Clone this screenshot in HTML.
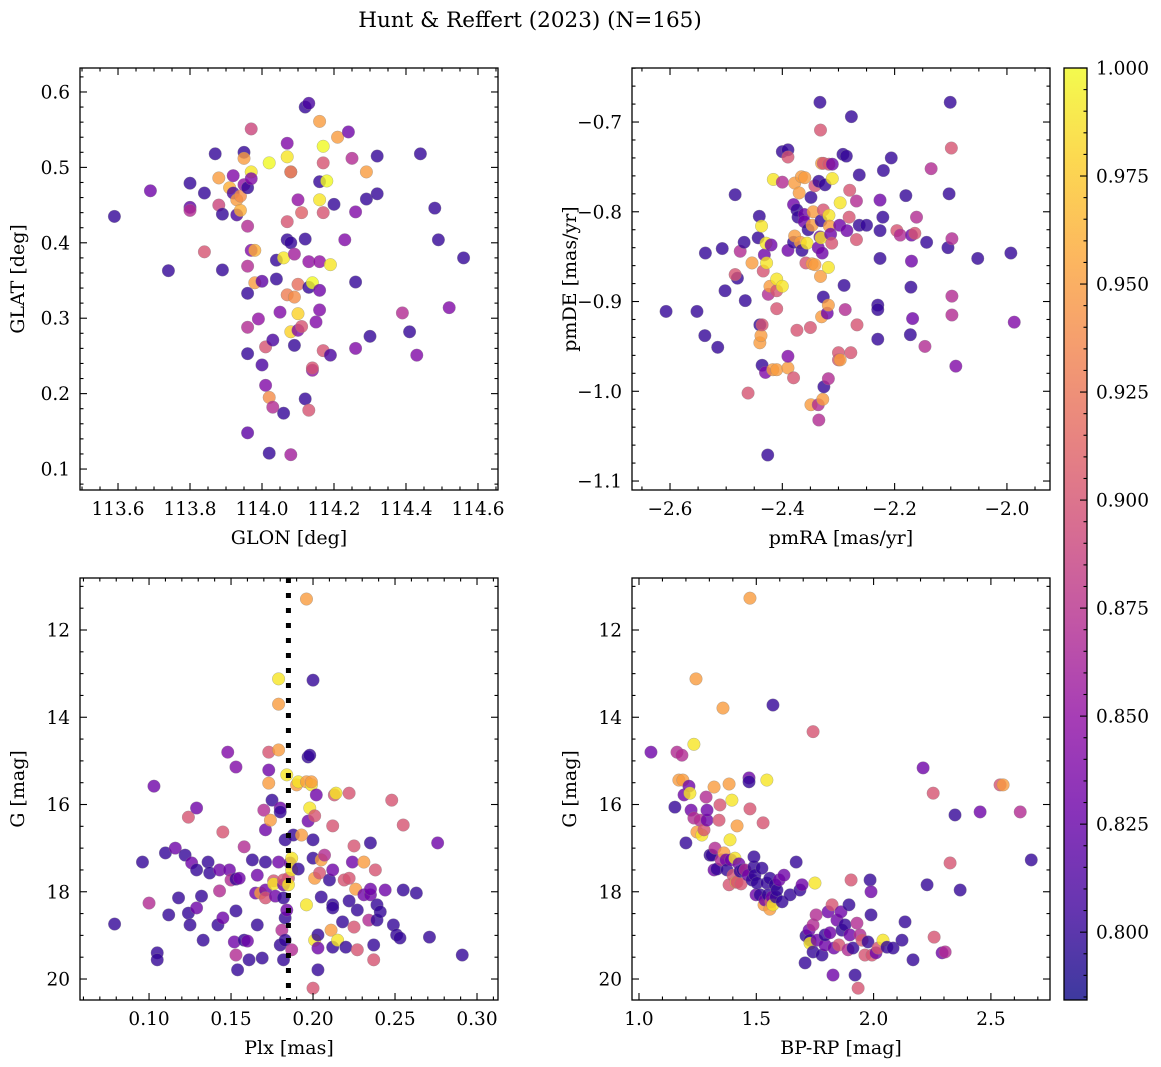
<!DOCTYPE html>
<html><head><meta charset="utf-8"><title>Hunt &amp; Reffert (2023)</title>
<style>
html,body{margin:0;padding:0;background:#fff;}
svg{display:block;font-family:"DejaVu Serif","Liberation Serif",serif;}
</style></head>
<body>
<svg id="fig" width="1161" height="1067" viewBox="0 0 1161 1067" xmlns="http://www.w3.org/2000/svg">
<text x="530" y="27" font-size="21.5" text-anchor="middle">Hunt &amp; Reffert (2023) (N=165)</text>
</svg>
<script>
// ---- data: [x, y, membership probability] ----
const glonGlat = [[113.59,0.435,0.80],[113.69,0.469,0.83],[113.74,0.363,0.80],[113.80,0.479,0.80],[113.80,0.447,0.82],[113.80,0.443,0.87],[113.84,0.388,0.90],[113.84,0.466,0.80],[113.87,0.518,0.80],[113.88,0.450,0.89],[113.88,0.486,0.95],[113.89,0.438,0.80],[113.89,0.364,0.80],[113.91,0.473,0.96],[113.92,0.466,0.81],[113.92,0.489,0.84],[113.93,0.457,0.95],[113.93,0.437,0.81],[113.94,0.443,0.96],[113.94,0.462,0.94],[113.95,0.477,0.85],[113.95,0.520,0.80],[113.96,0.473,0.80],[113.96,0.422,0.87],[113.97,0.551,0.89],[113.95,0.512,0.95],[113.97,0.494,0.99],[113.97,0.390,0.84],[113.96,0.369,0.87],[113.97,0.485,0.84],[113.96,0.253,0.80],[113.96,0.148,0.82],[113.96,0.333,0.80],[113.96,0.288,0.87],[113.98,0.390,0.96],[113.98,0.347,0.95],[113.99,0.299,0.85],[114.00,0.349,0.82],[114.00,0.238,0.81],[114.01,0.262,0.90],[114.01,0.211,0.84],[114.02,0.506,1.00],[114.02,0.195,0.94],[114.03,0.182,0.87],[114.02,0.121,0.80],[114.03,0.271,0.81],[114.04,0.377,0.80],[114.04,0.352,0.80],[114.05,0.308,0.84],[114.06,0.380,0.99],[114.06,0.174,0.80],[114.07,0.404,0.80],[114.07,0.428,0.90],[114.07,0.532,0.84],[114.07,0.514,0.99],[114.08,0.494,1.00],[114.07,0.331,0.93],[114.08,0.282,0.98],[114.08,0.119,0.86],[114.08,0.494,0.91],[114.08,0.400,0.80],[114.09,0.385,0.86],[114.09,0.264,0.80],[114.09,0.328,0.94],[114.10,0.457,0.85],[114.10,0.345,0.92],[114.10,0.306,0.98],[114.10,0.284,0.84],[114.11,0.289,0.90],[114.11,0.440,0.91],[114.12,0.193,0.80],[114.12,0.580,0.80],[114.13,0.585,0.81],[114.12,0.405,0.80],[114.13,0.375,0.85],[114.13,0.341,0.80],[114.14,0.231,0.85],[114.14,0.234,0.90],[114.13,0.178,0.90],[114.14,0.347,1.00],[114.15,0.295,0.84],[114.16,0.457,0.99],[114.16,0.375,0.85],[114.16,0.481,0.80],[114.16,0.311,0.84],[114.16,0.561,0.95],[114.16,0.337,0.83],[114.17,0.257,0.90],[114.17,0.440,0.90],[114.17,0.528,1.00],[114.17,0.506,0.90],[114.18,0.482,1.00],[114.19,0.371,0.99],[114.19,0.251,0.81],[114.20,0.451,0.80],[114.21,0.540,0.95],[114.23,0.404,0.84],[114.24,0.547,0.83],[114.25,0.512,0.87],[114.26,0.260,0.84],[114.26,0.348,0.80],[114.26,0.441,0.84],[114.29,0.494,0.95],[114.29,0.458,0.80],[114.30,0.276,0.80],[114.32,0.465,0.80],[114.32,0.515,0.80],[114.39,0.307,0.87],[114.41,0.282,0.80],[114.43,0.251,0.84],[114.44,0.518,0.80],[114.48,0.446,0.80],[114.49,0.404,0.80],[114.52,0.314,0.84],[114.56,0.380,0.80]];
const pmraPmde = [[-2.607,-0.911,0.80],[-2.552,-0.911,0.80],[-2.538,-0.938,0.80],[-2.537,-0.846,0.80],[-2.515,-0.951,0.80],[-2.507,-0.841,0.80],[-2.502,-0.888,0.80],[-2.484,-0.781,0.80],[-2.480,-0.874,0.80],[-2.475,-0.844,0.87],[-2.484,-0.870,0.90],[-2.468,-0.834,0.80],[-2.466,-0.899,0.80],[-2.461,-1.002,0.90],[-2.454,-0.857,0.95],[-2.443,-0.829,0.80],[-2.441,-0.805,0.80],[-2.440,-0.926,0.80],[-2.440,-0.946,0.95],[-2.438,-0.938,0.95],[-2.436,-0.926,0.90],[-2.437,-0.816,0.99],[-2.434,-0.866,0.90],[-2.432,-0.848,0.83],[-2.436,-0.971,0.80],[-2.430,-0.979,0.84],[-2.429,-0.835,0.99],[-2.428,-0.857,0.99],[-2.425,-0.892,0.87],[-2.426,-1.071,0.80],[-2.422,-0.883,0.95],[-2.420,-0.837,0.83],[-2.417,-0.976,0.95],[-2.416,-0.764,0.99],[-2.410,-0.888,0.90],[-2.410,-0.908,0.90],[-2.410,-0.976,0.95],[-2.410,-0.875,0.99],[-2.400,-0.883,0.99],[-2.400,-0.733,0.80],[-2.400,-0.767,0.87],[-2.390,-0.731,0.80],[-2.390,-0.739,0.90],[-2.390,-0.974,0.95],[-2.390,-0.843,0.83],[-2.390,-0.961,0.84],[-2.380,-0.834,0.80],[-2.380,-0.985,0.90],[-2.380,-0.792,0.83],[-2.378,-0.768,0.95],[-2.378,-0.827,0.95],[-2.374,-0.798,0.80],[-2.374,-0.932,0.90],[-2.372,-0.806,0.80],[-2.370,-0.779,0.95],[-2.368,-0.834,0.95],[-2.366,-0.761,0.95],[-2.365,-0.843,0.80],[-2.361,-0.803,0.83],[-2.361,-0.811,0.83],[-2.360,-0.762,0.95],[-2.358,-0.857,0.90],[-2.356,-0.835,0.99],[-2.354,-0.820,0.80],[-2.350,-0.929,0.90],[-2.349,-1.015,0.95],[-2.349,-0.784,0.80],[-2.347,-0.858,0.95],[-2.347,-0.815,0.95],[-2.345,-0.800,0.95],[-2.342,-0.859,0.95],[-2.342,-0.771,0.90],[-2.336,-0.840,0.83],[-2.336,-1.015,0.87],[-2.335,-0.766,0.80],[-2.335,-1.032,0.87],[-2.333,-0.678,0.80],[-2.333,-0.828,0.83],[-2.332,-0.872,0.95],[-2.332,-0.709,0.90],[-2.331,-0.810,0.80],[-2.331,-0.829,0.99],[-2.330,-0.746,0.95],[-2.330,-0.917,0.95],[-2.329,-0.846,0.83],[-2.328,-1.009,0.95],[-2.327,-0.746,0.90],[-2.327,-0.798,0.90],[-2.327,-0.895,0.80],[-2.326,-0.995,0.80],[-2.324,-0.770,0.80],[-2.320,-0.913,0.83],[-2.318,-0.986,0.87],[-2.318,-0.862,0.99],[-2.317,-0.804,0.99],[-2.317,-0.747,0.90],[-2.318,-0.904,0.95],[-2.316,-0.816,0.95],[-2.314,-0.825,0.83],[-2.312,-0.835,0.90],[-2.311,-0.747,0.83],[-2.311,-0.763,0.99],[-2.300,-0.965,0.90],[-2.300,-0.957,0.90],[-2.298,-0.815,0.83],[-2.297,-0.790,0.99],[-2.297,-0.965,0.95],[-2.292,-0.736,0.80],[-2.290,-0.882,0.80],[-2.286,-0.738,0.80],[-2.288,-0.909,0.87],[-2.285,-0.821,0.83],[-2.281,-0.806,0.90],[-2.280,-0.776,0.90],[-2.278,-0.957,0.90],[-2.277,-0.694,0.80],[-2.268,-0.788,0.87],[-2.267,-0.926,0.90],[-2.263,-0.815,0.80],[-2.263,-0.759,0.80],[-2.268,-0.831,0.90],[-2.250,-0.815,0.80],[-2.220,-0.754,0.80],[-2.230,-0.904,0.80],[-2.230,-0.909,0.80],[-2.230,-0.942,0.80],[-2.226,-0.787,0.83],[-2.226,-0.821,0.80],[-2.226,-0.852,0.80],[-2.221,-0.806,0.80],[-2.206,-0.740,0.80],[-2.196,-0.821,0.90],[-2.190,-0.826,0.87],[-2.180,-0.782,0.80],[-2.172,-0.937,0.80],[-2.171,-0.884,0.80],[-2.170,-0.826,0.83],[-2.168,-0.919,0.83],[-2.170,-0.855,0.83],[-2.164,-0.824,0.90],[-2.161,-0.806,0.87],[-2.143,-0.834,0.80],[-2.146,-0.950,0.87],[-2.135,-0.752,0.87],[-2.103,-0.780,0.80],[-2.105,-0.840,0.80],[-2.101,-0.678,0.80],[-2.099,-0.729,0.90],[-2.098,-0.830,0.87],[-2.098,-0.894,0.87],[-2.098,-0.915,0.87],[-2.091,-0.972,0.84],[-2.052,-0.852,0.80],[-1.993,-0.846,0.80],[-1.987,-0.923,0.84]];
const plxG = [[0.079,18.74,0.80],[0.096,17.32,0.80],[0.103,15.58,0.83],[0.100,18.26,0.87],[0.105,19.40,0.80],[0.105,19.56,0.80],[0.110,17.11,0.80],[0.112,18.53,0.80],[0.116,17.00,0.83],[0.118,18.14,0.80],[0.122,17.16,0.80],[0.124,16.29,0.90],[0.124,18.49,0.80],[0.125,18.76,0.80],[0.126,17.34,0.83],[0.129,16.08,0.83],[0.129,17.50,0.80],[0.129,18.37,0.83],[0.132,18.10,0.80],[0.133,19.11,0.80],[0.136,17.32,0.80],[0.137,17.57,0.80],[0.142,18.76,0.80],[0.143,17.50,0.83],[0.143,17.98,0.87],[0.145,16.63,0.90],[0.145,18.60,0.83],[0.148,14.80,0.84],[0.149,17.50,0.83],[0.150,17.73,0.87],[0.152,19.15,0.83],[0.153,15.14,0.84],[0.153,19.45,0.87],[0.153,17.71,0.80],[0.153,18.44,0.80],[0.154,19.79,0.80],[0.155,17.69,0.83],[0.158,16.97,0.87],[0.158,19.11,0.80],[0.160,19.13,0.83],[0.161,19.56,0.80],[0.163,17.27,0.80],[0.165,18.03,0.83],[0.166,17.62,0.83],[0.166,18.76,0.80],[0.168,18.03,0.95],[0.169,19.52,0.80],[0.170,16.13,0.87],[0.171,16.58,0.83],[0.171,17.96,0.83],[0.171,18.14,0.90],[0.171,17.32,0.80],[0.173,14.80,0.90],[0.173,15.51,0.95],[0.173,15.21,0.83],[0.174,16.36,0.95],[0.175,15.90,0.80],[0.176,17.75,0.90],[0.176,17.82,0.99],[0.177,18.10,0.83],[0.179,17.32,0.83],[0.179,13.12,0.99],[0.179,13.70,0.95],[0.179,14.75,0.95],[0.180,16.08,0.83],[0.180,16.17,0.80],[0.180,19.22,0.80],[0.181,18.88,0.87],[0.182,17.84,0.83],[0.182,19.56,0.80],[0.182,17.73,0.90],[0.182,18.14,0.80],[0.183,16.81,0.80],[0.183,18.60,0.80],[0.183,19.11,0.80],[0.184,15.32,0.99],[0.184,18.42,0.83],[0.185,17.69,0.90],[0.185,17.84,0.99],[0.186,17.34,0.83],[0.187,19.33,0.87],[0.187,17.23,0.99],[0.187,17.50,0.99],[0.188,16.70,0.80],[0.190,15.55,0.95],[0.191,17.48,0.80],[0.191,15.48,0.99],[0.193,16.70,0.95],[0.196,11.29,0.95],[0.196,15.48,0.95],[0.196,18.30,0.99],[0.197,16.38,0.83],[0.197,14.91,0.80],[0.198,14.87,0.80],[0.198,16.08,0.99],[0.199,15.55,0.99],[0.199,15.48,0.95],[0.200,13.15,0.80],[0.200,16.81,0.80],[0.200,17.23,0.80],[0.200,20.21,0.90],[0.201,16.26,0.90],[0.201,17.69,0.95],[0.201,19.11,0.99],[0.202,15.78,0.83],[0.203,19.29,0.83],[0.203,19.79,0.80],[0.203,18.99,0.80],[0.204,17.57,0.90],[0.205,18.12,0.80],[0.205,17.27,0.95],[0.207,17.16,0.87],[0.210,17.73,0.80],[0.211,18.88,0.95],[0.212,18.30,0.80],[0.212,16.49,0.90],[0.212,19.27,0.80],[0.212,17.50,0.83],[0.212,18.37,0.80],[0.213,15.78,0.90],[0.215,19.11,0.99],[0.214,15.74,0.99],[0.218,18.69,0.80],[0.219,17.73,0.90],[0.220,19.27,0.80],[0.222,15.74,0.90],[0.222,17.69,0.90],[0.222,18.21,0.80],[0.224,17.32,0.83],[0.225,16.95,0.90],[0.225,18.81,0.90],[0.226,17.94,0.95],[0.227,19.33,0.90],[0.227,18.42,0.80],[0.231,18.07,0.83],[0.231,17.32,0.95],[0.234,18.65,0.87],[0.235,18.07,0.83],[0.235,17.94,0.83],[0.235,16.88,0.80],[0.237,19.56,0.90],[0.237,19.22,0.80],[0.238,17.50,0.90],[0.239,18.30,0.80],[0.239,18.65,0.80],[0.241,18.46,0.80],[0.244,17.96,0.83],[0.248,15.90,0.90],[0.249,18.76,0.80],[0.251,18.99,0.80],[0.255,17.96,0.80],[0.255,16.47,0.90],[0.253,19.06,0.80],[0.263,18.03,0.80],[0.271,19.04,0.80],[0.276,16.88,0.83],[0.291,19.45,0.80]];
const bprpG = [[1.051,14.80,0.83],[1.153,16.06,0.80],[1.162,14.80,0.87],[1.170,15.44,0.95],[1.183,14.87,0.87],[1.187,15.44,0.95],[1.192,15.78,0.83],[1.200,16.88,0.80],[1.213,15.58,0.83],[1.217,15.74,0.99],[1.222,16.13,0.83],[1.234,16.31,0.87],[1.234,14.62,0.99],[1.243,13.12,0.95],[1.247,16.63,0.95],[1.260,16.36,0.87],[1.268,16.70,0.99],[1.277,16.58,0.90],[1.286,15.83,0.87],[1.290,16.36,0.83],[1.290,16.13,0.83],[1.303,17.16,0.80],[1.311,17.16,0.80],[1.320,15.60,0.95],[1.320,17.50,0.83],[1.324,17.00,0.87],[1.332,17.48,0.80],[1.341,16.36,0.90],[1.345,16.01,0.90],[1.350,17.27,0.87],[1.358,13.79,0.95],[1.362,17.11,0.95],[1.371,17.27,0.83],[1.375,17.50,0.80],[1.384,17.84,0.90],[1.384,15.53,0.95],[1.388,16.81,0.99],[1.392,17.27,0.83],[1.396,15.90,0.99],[1.401,17.62,0.90],[1.409,17.23,0.99],[1.413,17.78,0.95],[1.418,17.78,0.90],[1.418,16.49,0.95],[1.426,17.36,0.83],[1.431,17.53,0.80],[1.435,17.82,0.90],[1.443,17.50,0.80],[1.452,17.50,0.87],[1.465,17.62,0.83],[1.469,15.39,0.83],[1.469,15.48,0.80],[1.473,11.27,0.95],[1.473,16.10,0.90],[1.482,17.73,0.80],[1.490,17.43,0.80],[1.490,17.20,0.80],[1.494,17.62,0.80],[1.499,18.07,0.83],[1.503,17.80,0.80],[1.516,18.07,0.80],[1.524,17.46,0.80],[1.529,16.42,0.90],[1.533,18.30,0.95],[1.537,18.19,0.83],[1.545,15.44,0.99],[1.545,17.80,0.80],[1.550,18.07,0.80],[1.558,18.40,0.95],[1.558,17.69,0.80],[1.563,18.23,0.90],[1.567,18.12,0.83],[1.571,13.72,0.80],[1.571,18.30,0.99],[1.580,17.84,0.80],[1.584,18.12,0.80],[1.588,17.96,0.80],[1.597,17.73,0.83],[1.610,18.23,0.80],[1.618,17.62,0.83],[1.644,18.07,0.80],[1.670,17.32,0.80],[1.686,17.96,0.80],[1.695,17.84,0.83],[1.708,19.63,0.80],[1.712,19.01,0.80],[1.725,18.88,0.83],[1.729,19.11,0.80],[1.729,19.18,0.99],[1.742,19.38,0.80],[1.742,18.76,0.87],[1.750,17.80,0.99],[1.742,14.33,0.90],[1.755,18.53,0.87],[1.759,19.11,0.83],[1.780,19.45,0.80],[1.793,19.22,0.83],[1.793,18.99,0.80],[1.806,18.46,0.83],[1.814,18.94,0.83],[1.823,18.30,0.90],[1.827,19.91,0.83],[1.831,19.29,0.83],[1.844,18.65,0.83],[1.852,19.22,0.90],[1.861,18.46,0.83],[1.865,18.88,0.80],[1.878,18.76,0.80],[1.891,19.33,0.87],[1.895,18.30,0.80],[1.899,18.99,0.83],[1.904,17.73,0.90],[1.912,19.29,0.80],[1.921,19.91,0.80],[1.929,18.72,0.87],[1.934,20.21,0.90],[1.942,18.99,0.87],[1.951,19.11,0.90],[1.963,19.45,0.90],[1.976,19.15,0.80],[1.985,17.73,0.80],[1.989,18.00,0.83],[1.989,18.53,0.80],[1.993,19.45,0.90],[2.010,19.40,0.83],[2.019,19.29,0.90],[2.040,19.11,0.99],[2.057,19.27,0.80],[2.083,19.29,0.80],[2.121,19.11,0.80],[2.134,18.69,0.80],[2.168,19.56,0.80],[2.211,15.16,0.83],[2.228,17.84,0.80],[2.258,19.04,0.90],[2.254,15.74,0.90],[2.292,19.40,0.83],[2.305,19.38,0.87],[2.326,17.34,0.90],[2.347,16.24,0.80],[2.369,17.96,0.80],[2.454,16.17,0.83],[2.539,15.55,0.90],[2.552,15.55,0.95],[2.625,16.17,0.87],[2.672,17.27,0.80]];
const plxRef = 0.185;
const glonTicks = [113.6,113.8,114.0,114.2,114.4,114.6];
const glatTicks = [0.1,0.2,0.3,0.4,0.5,0.6];
const pmraTicks = [-2.6,-2.4,-2.2,-2.0];
const pmdeTicks = [-0.7,-0.8,-0.9,-1.0,-1.1];
const plxTicks = [0.10,0.15,0.20,0.25,0.30];
const gTicks = [12,14,16,18,20];
const bprpTicks = [1.0,1.5,2.0,2.5];
const cbarTicks = [0.800,0.825,0.850,0.875,0.900,0.925,0.950,0.975,1.000];
const cmin = 0.7843, cmax = 1.0;

const NS = "http://www.w3.org/2000/svg";
const svg = document.getElementById('fig');
const TICKFS = 18.5, LABFS = 19;
const plasma = ["#0d0887","#41049d","#6a00a8","#8f0da4","#b12a90","#cc4778","#e16462","#f2844b","#fca636","#fcce25","#f0f921"];
function hex(h){return [1,3,5].map(i=>parseInt(h.substr(i,2),16));}
function cmap(v){
  let t=(v-cmin)/(cmax-cmin); t=Math.max(0,Math.min(1,t));
  const f=t*10, i=Math.min(9,Math.floor(f)), r=f-i;
  const a=hex(plasma[i]), b=hex(plasma[i+1]);
  return 'rgb('+a.map((c,k)=>Math.round(c+(b[k]-c)*r)).join(',')+')';
}
function mk(tag, attrs, parent){const e=document.createElementNS(NS,tag);for(const k in attrs)e.setAttribute(k,attrs[k]);(parent||svg).appendChild(e);return e;}
function fmt(v,d){return (v<0?'\u2212':'')+Math.abs(v).toFixed(d);}

function panel(c){
  const g=mk('g',{});
  
  
  const sx=v=>c.x0+(v-c.xmin)/(c.xmax-c.xmin)*c.w;
  const sy=c.inv? (v=>c.y0+(v-c.ymin)/(c.ymax-c.ymin)*c.h) : (v=>c.y0+c.h-(v-c.ymin)/(c.ymax-c.ymin)*c.h);
  const cid='clip-'+c.name;
  const cp=mk('clipPath',{id:cid},g); mk('rect',{x:c.x0,y:c.y0,width:c.w,height:c.h},cp);
  const pts=mk('g',{'clip-path':'url(#'+cid+')'},g);
  
  
  c.data.forEach(d=>{
    const p=mk('circle',{cx:sx(d[0]),cy:sy(d[1]),r:6.3,fill:cmap(d[2]),'fill-opacity':0.8,stroke:'#888','stroke-width':0.5,'stroke-opacity':0.6},pts);
    
    
  });
  if(c.vline!==undefined){
    const l=mk('line',{x1:sx(c.vline),x2:sx(c.vline),y1:c.y0,y2:c.y0+c.h,stroke:'#000','stroke-width':5,'stroke-dasharray':'5 10'},g);
    
    
  }
  const tk=mk('g',{stroke:'#000','stroke-width':1.1},g);
  const eps=1e-9;
  const lo=Math.min(c.xmin,c.xmax), hi=Math.max(c.xmin,c.xmax);
  for(let v=Math.ceil(lo/c.xminor-eps)*c.xminor; v<=hi+eps; v+=c.xminor){
    const X=sx(v); const major=c.xticks.some(t=>Math.abs(t-v)<c.xminor/10); const L=major?7:3.5;
    mk('line',{x1:X,x2:X,y1:c.y0+c.h,y2:c.y0+c.h-L},tk); mk('line',{x1:X,x2:X,y1:c.y0,y2:c.y0+L},tk);
  }
  const ylo=Math.min(c.ymin,c.ymax), yhi=Math.max(c.ymin,c.ymax);
  for(let v=Math.ceil(ylo/c.yminor-eps)*c.yminor; v<=yhi+eps; v+=c.yminor){
    const Y=sy(v); const major=c.yticks.some(t=>Math.abs(t-v)<c.yminor/10); const L=major?7:3.5;
    mk('line',{x1:c.x0,x2:c.x0+L,y1:Y,y2:Y},tk); mk('line',{x1:c.x0+c.w,x2:c.x0+c.w-L,y1:Y,y2:Y},tk);
  }
  c.xticks.forEach(v=>{const t=mk('text',{x:sx(v),y:c.y0+c.h+25,'font-size':TICKFS,'text-anchor':'middle'},g);t.textContent=fmt(v,c.xd);
    
    });
  c.yticks.forEach(v=>{const t=mk('text',{x:c.x0-10,y:sy(v)+6.5,'font-size':TICKFS,'text-anchor':'end'},g);t.textContent=fmt(v,c.yd);
    
    });
  mk('rect',{x:c.x0,y:c.y0,width:c.w,height:c.h,fill:'none',stroke:'#000','stroke-width':1.3},g);
  const xl=mk('text',{x:c.x0+c.w/2,y:c.y0+c.h+54,'font-size':LABFS,'text-anchor':'middle'},g); xl.textContent=c.xlabel;
  
  
  const yl=mk('text',{x:0,y:0,'font-size':LABFS,'text-anchor':'middle',transform:'translate('+(c.x0-56)+','+(c.y0+c.h/2)+') rotate(-90)'},g); yl.textContent=c.ylabel;
  
  
}

panel({name:'glon-glat-panel',x0:80,y0:68,w:418,h:422,xmin:113.4944,xmax:114.6556,ymin:0.0722,ymax:0.6318,xticks:glonTicks,yticks:glatTicks,xminor:0.05,yminor:0.02,xd:1,yd:1,xlabel:'GLON [deg]',ylabel:'GLAT [deg]',data:glonGlat});
panel({name:'pmra-pmde-panel',x0:632,y0:68,w:418,h:422,xmin:-2.6677,xmax:-1.9233,ymin:-1.1100,ymax:-0.6398,xticks:pmraTicks,yticks:pmdeTicks,xminor:0.05,yminor:0.02,xd:1,yd:1,xlabel:'pmRA [mas/yr]',ylabel:'pmDE [mas/yr]',data:pmraPmde});
panel({name:'plx-g-panel',x0:80,y0:578,w:418,h:422,xmin:0.0579,xmax:0.3128,ymin:10.808,ymax:20.481,inv:true,xticks:plxTicks,yticks:gTicks,xminor:0.01,yminor:0.5,xd:2,yd:0,xlabel:'Plx [mas]',ylabel:'G [mag]',data:plxG,vline:plxRef});
panel({name:'bprp-g-panel',x0:632,y0:578,w:418,h:422,xmin:0.9702,xmax:2.7519,ymin:10.808,ymax:20.481,inv:true,xticks:bprpTicks,yticks:gTicks,xminor:0.1,yminor:0.5,xd:1,yd:0,xlabel:'BP-RP [mag]',ylabel:'G [mag]',data:bprpG});

(function(){
  const x0=1064,y0=68,w=23,h=932;
  const cb=mk('g',{});
  
  
  const defs=mk('defs',{},cb);
  const lg=mk('linearGradient',{id:'cbg',x1:0,y1:1,x2:0,y2:0},defs);
  plasma.forEach((col,i)=>mk('stop',{offset:(i/10),'stop-color':col,'stop-opacity':0.8},lg));
  mk('rect',{x:x0,y:y0,width:w,height:h,fill:'url(#cbg)'},cb);
  const sy=v=>y0+h-(v-cmin)/(cmax-cmin)*h;
  for(let v=Math.ceil(cmin/0.005)*0.005; v<=cmax+1e-9; v+=0.005){
    const major=cbarTicks.some(t=>Math.abs(t-v)<1e-4); const Y=sy(v);
    mk('line',{x1:x0+w,x2:x0+w-(major?7:3.5),y1:Y,y2:Y,stroke:'#000','stroke-width':1.1},cb);
  }
  cbarTicks.forEach(v=>{const t=mk('text',{x:x0+w+9,y:sy(v)+6.5,'font-size':TICKFS},cb);t.textContent=v.toFixed(3);
    
    });
  mk('rect',{x:x0,y:y0,width:w,height:h,fill:'none',stroke:'#000','stroke-width':1.3},cb);
})();
</script>
</body></html>
